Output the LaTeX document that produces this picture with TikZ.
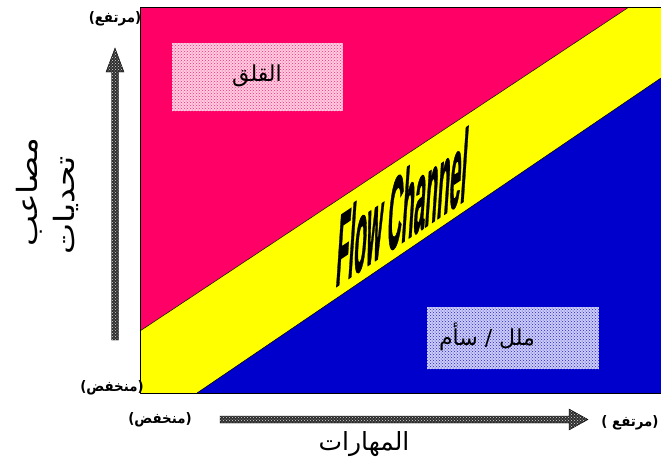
\documentclass[tikz,border=0pt]{standalone}
\usepackage{fontspec}
\usetikzlibrary{patterns}
\TeXXeTstate=1
\newfontfamily\arabicfont[Script=Arabic]{DejaVu Sans}
\newfontfamily\parfont{DejaVu Sans}
\newfontfamily\fcfont[FakeBold=1.5]{Liberation Sans Bold}
\definecolor{pinkc}{HTML}{FF0066}
\definecolor{yellowc}{HTML}{FFFF00}
\definecolor{bluec}{HTML}{0000CC}
\newcommand{\lp}{{\parfont(}}
\newcommand{\rp}{{\parfont)}}
\tikzset{
  region/.style={draw=black, line width=0.5pt, line join=round},
  axisarrow/.style={draw=black, line width=0.4pt, preaction={fill=black!82}, pattern=crosshatch dots, pattern color=white!85!black},
  pinkbox/.style={draw=none, inner sep=0pt, minimum width=171pt, minimum height=68pt, preaction={fill=pinkc!20!white}, pattern=crosshatch dots, pattern color=pinkc!85!white},
  bluebox/.style={draw=none, inner sep=0pt, minimum width=172pt, minimum height=62pt, preaction={fill=bluec!20!white}, pattern=crosshatch dots, pattern color=bluec!85!white},
  smalllab/.style={font=\arabicfont\bfseries\fontsize{14.5}{17}\selectfont, inner sep=0pt, xscale=0.92},
  biglab/.style={font=\arabicfont\fontsize{25}{30}\selectfont, inner sep=0pt},
  ylab/.style={font=\arabicfont\fontsize{28}{32}\selectfont, inner sep=0pt, rotate=90, xscale=1.18},
  boxlab/.style={font=\arabicfont\fontsize{22}{26}\selectfont, inner sep=0pt}
}
\begin{document}
\begin{tikzpicture}[x=1pt,y=-1pt]
\useasboundingbox (0,0) rectangle (661,467);
% regions
\fill[pinkc] (140,7) -- (629,7) -- (140,331) -- cycle;
\fill[yellowc] (629,7) -- (661,7) -- (661,78) -- (197,393) -- (140,393) -- (140,331) -- cycle;
\fill[bluec] (661,78) -- (661,393) -- (197,393) -- cycle;
% labels partly under the frame
\node[smalllab] (ylow) at (112,388) {\lp\beginR منخفض\endR\rp};
\draw[region] (140,331) -- (629,7);
\draw[region] (197,393) -- (661,78);
\draw[region] (660.5,7) -- (140,7) -- (140,393) -- (660.5,393);
% pattern boxes
\node[pinkbox] (anx) at (257.5,77) {};
\node[bluebox] (bor) at (513,338) {};
\node[boxlab] (anxt) at (257,76) {\beginR القلق\endR};
\node[boxlab] (bort) at (487,337) {\beginR ملل / سأم\endR};
% flow channel
\begin{scope}[shift={(400,244)}]
\node[anchor=base, inner sep=0pt, font=\fcfont\fontsize{20}{24}\selectfont, cm={1.0,0.67,0.35,5.2,(0,0)}] (fc) at (0,0) {Flow Channel};
\end{scope}
% axis arrows
\draw[axisarrow] (220,416) -- (569,416) -- (569,409) -- (588,419.5) -- (569,430) -- (569,423) -- (220,423) -- cycle;
\draw[axisarrow] (111.5,340) -- (111.5,72) -- (106,72) -- (115,48) -- (124,72) -- (118.5,72) -- (118.5,340) -- cycle;
% labels
\node[smalllab] (yhigh) at (115,19) {\lp\beginR مرتفع\endR\rp};
\node[smalllab] (xlow) at (160,420) {\lp\beginR منخفض\endR\rp};
\node[smalllab] (xhigh) at (630,423) {\lp\ \beginR مرتفع\endR\rp};
\node[biglab] (xlab) at (364,444) {\beginR المهارات\endR};
\node[ylab] (ylab1) at (29,192) {\beginR مصاعب\endR};
\node[ylab] (ylab2) at (66,205) {\beginR تحديات\endR};
\end{tikzpicture}
\end{document}
